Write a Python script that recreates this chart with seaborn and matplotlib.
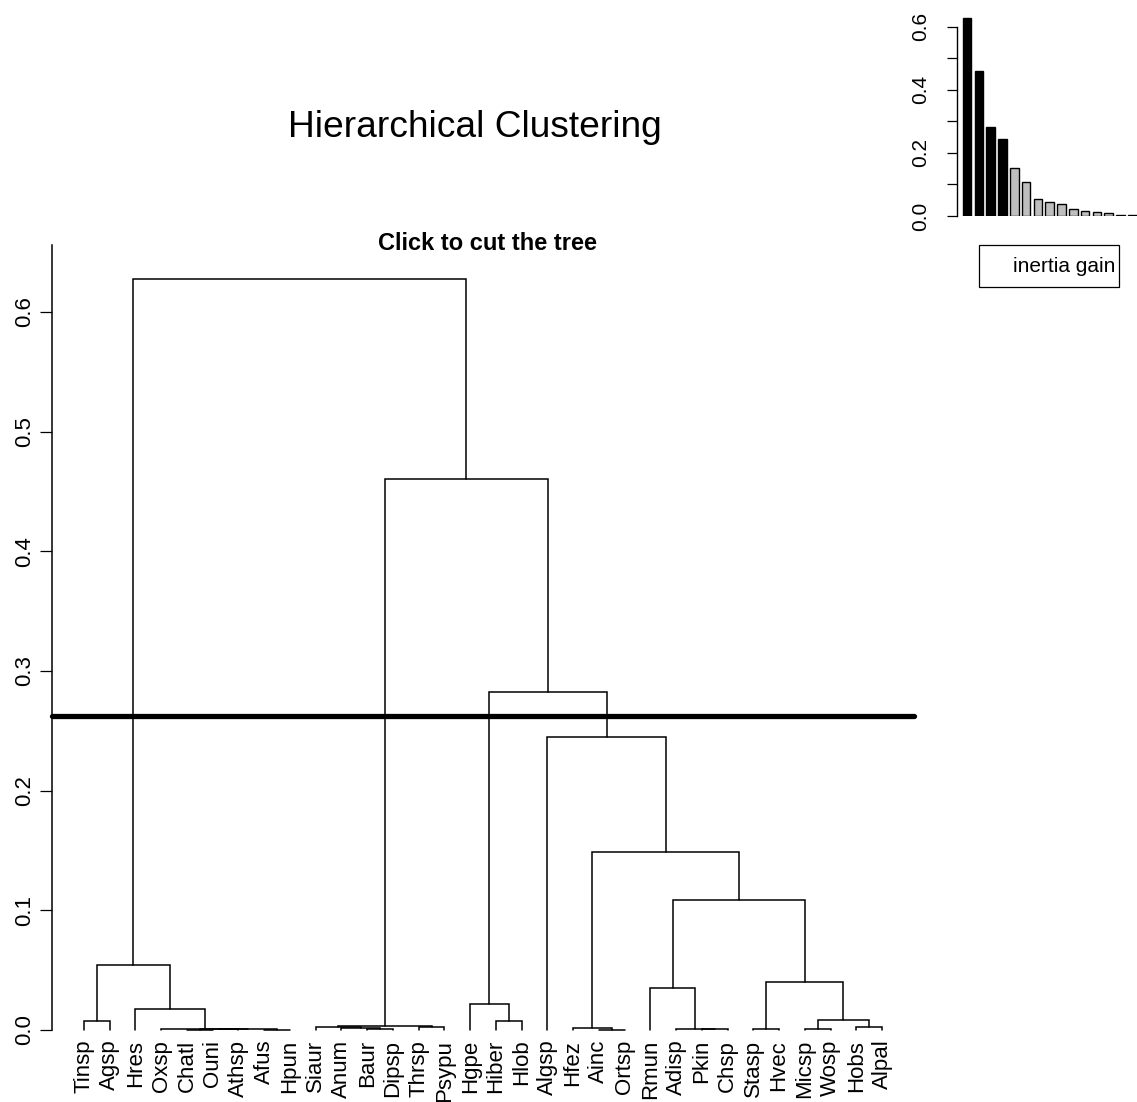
import matplotlib
matplotlib.use("Agg")
import matplotlib.pyplot as plt
from matplotlib.patches import Rectangle
import pandas as pd
import seaborn as sns

# leaves in the order they are drawn
leaf_labels = ["Tinsp", "Agsp", "Hres", "Oxsp", "Chatl", "Ouni", "Athsp", "Afus",
               "Hpun", "Siaur", "Anum", "Baur", "Dipsp", "Thrsp", "Psypu", "Hgpe",
               "Hiber", "Hlob", "Algsp", "Hfez", "Ainc", "Ortsp", "Rmun", "Adisp",
               "Pkin", "Chsp", "Stasp", "Hvec", "Micsp", "Wosp", "Hobs", "Alpal"]

# merges: a child is a leaf name or the number of an earlier merge
merge_left = ["Tinsp", "Chatl", 1, "Afus", 2, "Oxsp", "Hres", 0,
              "Baur", "Anum", "Siaur", "Thrsp", 10, "Hiber", "Hgpe",
              "Ainc", "Hfez", "Pkin", "Adisp", "Rmun", "Stasp", "Micsp",
              "Hobs", 21, 20, 19, 16, "Algsp", 14, 12, 7]
merge_right = ["Agsp", "Ouni", "Athsp", "Hpun", 3, 4, 5, 6,
               "Dipsp", 8, 9, "Psypu", 11, "Hlob", 13,
               "Ortsp", 15, "Chsp", 17, 18, "Hvec", "Wosp",
               "Alpal", 22, 23, 24, 25, 26, 27, 28, 29]
merge_height = [0.0075, 0.0003, 0.0006, 0.0002, 0.0009, 0.0012, 0.0175, 0.054,
                0.0005, 0.0018, 0.0022, 0.0027, 0.0035, 0.0075, 0.022,
                0.0003, 0.002, 0.0006, 0.0009, 0.0355, 0.001, 0.001,
                0.0025, 0.0085, 0.040, 0.109, 0.149, 0.245, 0.282, 0.460, 0.627]
cut_height = 0.262

# inertia gain barplot (top right)
gain_values = [0.626, 0.459, 0.281, 0.243, 0.151, 0.108, 0.054, 0.043,
               0.038, 0.022, 0.017, 0.012, 0.011, 0.004, 0.003]
n_clusters = 5

W, H = 1137, 1102
sns.set_style("white")
plt.rcParams["font.family"] = ["Liberation Sans", "DejaVu Sans"]
plt.rcParams.update({"text.color": "black", "axes.edgecolor": "black",
                     "xtick.color": "black", "ytick.color": "black",
                     "axes.labelcolor": "black"})

fig = plt.figure(figsize=(W / 100, H / 100), dpi=100)


def fx(px):
    return px / W


def fy(py):
    return 1 - py / H


# ---- dendrogram ----
ax = fig.add_axes([fx(52), fy(1060), (914 - 52) / W, (1060 - 245) / H])

leaf_x = {name: i + 1 for i, name in enumerate(leaf_labels)}
node_x, node_h = [], []


def child_pos(c):
    if isinstance(c, str):
        return leaf_x[c], 0.0
    return node_x[c], node_h[c]


for a, b, h in zip(merge_left, merge_right, merge_height):
    xa, ha = child_pos(a)
    xb, hb = child_pos(b)
    ax.plot([xa, xa, xb, xb], [ha, h, h, hb], color="black", lw=1.1,
            solid_joinstyle="miter")
    node_x.append((xa + xb) / 2)
    node_h.append(h)

ax.set_xlim(-0.24, 33.24)
ax.set_ylim(-30 / 1197, 785 / 1197)
ax.plot([-0.24, 33.24], [cut_height, cut_height], color="black", lw=3.8,
        solid_capstyle="round", clip_on=False)

for name, x in leaf_x.items():
    ax.annotate(name, xy=(x, 0), xytext=(0, -7), textcoords="offset points",
                rotation=90, ha="center", va="top", fontsize=16,
                annotation_clip=False)

sns.despine(ax=ax, left=False, bottom=True)
ax.spines["left"].set_bounds(0, 785 / 1197)
ax.spines["left"].set_linewidth(1.1)
ax.set_xticks([])
ax.set_yticks([0, 0.1, 0.2, 0.3, 0.4, 0.5, 0.6])
ax.set_yticklabels(["0.0", "0.1", "0.2", "0.3", "0.4", "0.5", "0.6"])
ax.tick_params(axis="y", left=True, length=8.5, width=0.9, pad=4, labelsize=16)
plt.setp(ax.get_yticklabels(), rotation=90, va="center", ha="right")

fig.text(fx(487), fy(250), "Click to cut the tree", ha="center", va="baseline",
         fontsize=17, fontweight="bold")
fig.text(fx(475), fy(137), "Hierarchical Clustering", ha="center",
         va="baseline", fontsize=26.7)

# ---- inertia gain inset ----
ax2 = fig.add_axes([fx(957), fy(216), (W - 957) / W, (216 - 10) / H])
gain = pd.DataFrame({"step": [str(i) for i in range(len(gain_values))],
                     "gain": gain_values})
bar_colors = {s: ("black" if i < n_clusters - 1 else "#BEBEBE")
              for i, s in enumerate(gain["step"])}
sns.barplot(data=gain, x="step", y="gain", hue="step", palette=bar_colors,
            legend=False, width=0.73, edgecolor="black", linewidth=1.0,
            saturation=1, ax=ax2)
ax2.set_xlim(-0.85, 14.4)
ax2.set_ylim(0, 206 / 315.5)
sns.despine(ax=ax2, left=False, bottom=True)
ax2.spines["left"].set_bounds(0, 0.6)
ax2.spines["left"].set_linewidth(1.0)
ax2.set_xticks([])
ax2.set_xlabel("")
ax2.set_ylabel("")
ax2.set_yticks([0, 0.1, 0.2, 0.3, 0.4, 0.5, 0.6])
ax2.set_yticklabels(["0.0", "", "0.2", "", "0.4", "", "0.6"])
ax2.tick_params(axis="y", left=True, length=7, width=0.9, pad=12, labelsize=15)
plt.setp(ax2.get_yticklabels(), rotation=90, va="center", ha="right")

fig.add_artist(Rectangle((fx(979), fy(287)), (1119 - 979) / W, (287 - 245) / H,
                         transform=fig.transFigure, fill=False,
                         edgecolor="black", lw=0.9))
fig.text(fx(1115), fy(266), "inertia gain", ha="right", va="center",
         fontsize=15)

fig.savefig("out.png", dpi=100, facecolor="white")
